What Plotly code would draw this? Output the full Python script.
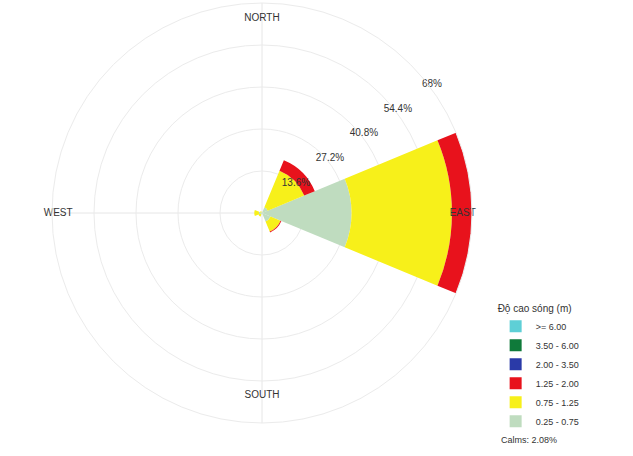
import plotly.graph_objects as go

# Directions (compass degrees) and wave-height bins (% frequency per bin)
directions = [0, 45, 90, 135, 180, 225, 270, 315]
bin_labels = ["0.25 - 0.75", "0.75 - 1.25", "1.25 - 2.00", "2.00 - 3.50", "3.50 - 6.00", ">= 6.00"]
bin_colors = ["#bfdcbf", "#f7f01a", "#e8121c", "#2a3aa8", "#0f7a3a", "#5ecfd6"]

v_025_075 = [0.0, 2.0, 29.0, 3.0, 0.0, 0.5, 1.0, 0.3]
v_075_125 = [0.0, 12.8, 32.5, 3.5, 0.0, 0.8, 1.5, 0.4]
v_125_200 = [0.0, 3.7, 6.5, 0.3, 0.0, 0.0, 0.0, 0.0]
v_200_350 = [0.0] * 8
v_350_600 = [0.0] * 8
v_600_up = [0.0] * 8
bin_values = [v_025_075, v_075_125, v_125_200, v_200_350, v_350_600, v_600_up]

ring_vals = [13.6, 27.2, 40.8, 54.4, 68]
ring_text = ["13.6%", "27.2%", "40.8%", "54.4%", "68%"]
compass_theta = [0, 90, 180, 270]
compass_text = ["NORTH", "EAST", "SOUTH", "WEST"]
compass_r = [63, 65, 59, 66]
calms_text = "Calms: 2.08%"
legend_title = "Độ cao sóng (m)"

FONT = "Liberation Sans, Arial, sans-serif"

fig = go.Figure()
for lab, col, vals in zip(bin_labels, bin_colors, bin_values):
    fig.add_trace(go.Barpolar(
        r=vals, theta=directions, width=[45] * len(directions),
        name=lab, marker=dict(color=col, line=dict(width=0)),
        showlegend=True,
    ))

# radial ring labels
fig.add_trace(go.Scatterpolar(
    r=ring_vals, theta=[54] * len(ring_vals), mode="text", text=ring_text,
    textposition="top center",
    textfont=dict(family=FONT, size=10, color="#333333"), showlegend=False, hoverinfo="skip",
))
# compass labels
fig.add_trace(go.Scatterpolar(
    r=compass_r, theta=compass_theta, mode="text", text=compass_text,
    textposition="middle center",
    textfont=dict(family=FONT, size=10, color="#333333"), showlegend=False, hoverinfo="skip",
))

R = 210
cx, cy = 262, 456 - 213
fig.update_layout(
    width=633, height=456,
    margin=dict(l=0, r=0, t=0, b=0),
    paper_bgcolor="white", plot_bgcolor="white",
    font=dict(family=FONT, size=10, color="#333333"),
    polar=dict(
        domain=dict(x=[(cx - R) / 633, (cx + R) / 633], y=[(cy - R) / 456, (cy + R) / 456]),
        bgcolor="white",
        bargap=0,
        radialaxis=dict(range=[0, 68], tickvals=ring_vals, showticklabels=False,
                        showline=False, ticks="", gridcolor="#ebebeb", gridwidth=1),
        angularaxis=dict(rotation=90, direction="clockwise", tickvals=compass_theta,
                         showticklabels=False, ticks="", showline=True, linecolor="#ebebeb",
                         gridcolor="#e6e6e6", gridwidth=1),
    ),
    legend=dict(
        x=0.783, y=0.345, xanchor="left", yanchor="top",
        traceorder="reversed",
        title=dict(text=legend_title, font=dict(family=FONT, size=10, color="#333333")),
        font=dict(family=FONT, size=9, color="#333333"),
        bgcolor="rgba(0,0,0,0)", itemsizing="constant",
    ),
    annotations=[dict(text=calms_text, x=0.788, y=0.035, xref="paper", yref="paper",
                      xanchor="left", yanchor="middle", showarrow=False,
                      font=dict(family=FONT, size=9, color="#333333"))],
)

fig.write_html("out.html")
